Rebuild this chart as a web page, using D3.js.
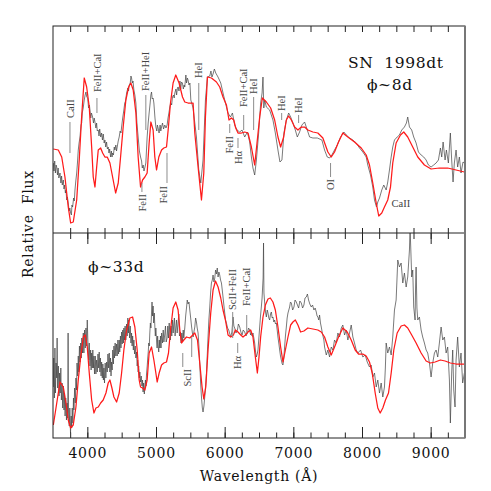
<!DOCTYPE html>
<html>
<head>
<meta charset="utf-8">
<script src="https://cdn.jsdelivr.net/npm/d3@7"></script>
<style>
    body { margin: 0; background: #fff; }
    svg text { font-family: "DejaVu Serif", serif; }
</style>
</head>
<body>
<div id="chart"></div>
<script>
// ticks along the wavelength axis
var majorTicks = [4000, 5000, 6000, 7000, 8000, 9000];
var minorTicks = [3750, 4000, 4250, 4500, 4750, 5000, 5250, 5500, 5750, 6000, 6250, 6500, 6750,
    7000, 7250, 7500, 7750, 8000, 8250, 8500, 8750, 9000, 9250];

// phase ~8d : observed spectrum [wavelength, relative flux]
var obs8 = [[3505,0.70],[3515,0.62],[3525,0.72],[3535,0.60],[3545,0.68],[3554,0.66],[3565,0.58],[3575,0.65],[3585,0.55],[3602,0.60],[3615,0.50],[3625,0.57],[3635,0.48],[3650,0.53],[3660,0.44],[3670,0.48],[3680,0.40],[3689,0.43],[3700,0.33],[3710,0.36],[3722,0.30],[3735,0.22],[3745,0.25],[3757,0.20],[3768,0.18],[3776,0.28],[3786,0.26],[3800,0.35],[3810,0.32],[3820,0.43],[3832,0.52],[3845,0.60],[3856,0.70],[3868,0.83],[3880,0.90],[3893,0.96],[3908,1.08],[3918,1.10],[3926,1.20],[3940,1.25],[3955,1.33],[3968,1.38],[3980,1.41],[3992,1.36],[4005,1.35],[4018,1.25],[4030,1.28],[4038,1.23],[4050,1.15],[4060,1.20],[4077,1.16],[4090,1.10],[4100,1.15],[4111,1.11],[4125,1.05],[4135,1.10],[4145,1.02],[4159,1.03],[4170,0.97],[4180,1.04],[4195,0.96],[4208,1.00],[4220,0.93],[4232,0.99],[4245,0.90],[4256,0.93],[4268,0.86],[4280,0.91],[4292,0.84],[4304,0.86],[4315,0.80],[4325,0.84],[4339,0.76],[4350,0.82],[4360,0.76],[4368,0.80],[4380,0.78],[4392,0.86],[4401,0.83],[4415,0.88],[4425,0.82],[4435,0.86],[4450,0.92],[4464,0.96],[4478,1.02],[4490,1.00],[4499,1.06],[4515,1.15],[4532,1.23],[4545,1.30],[4557,1.32],[4572,1.40],[4590,1.45],[4600,1.42],[4610,1.48],[4625,1.50],[4635,1.57],[4644,1.55],[4655,1.50],[4665,1.52],[4678,1.43],[4692,1.38],[4707,1.30],[4722,1.10],[4740,0.96],[4758,0.82],[4775,0.76],[4790,0.72],[4800,0.65],[4813,0.68],[4825,0.62],[4840,0.66],[4852,0.70],[4871,0.96],[4886,1.10],[4900,1.20],[4915,1.30],[4925,1.38],[4935,1.41],[4945,1.34],[4958,1.35],[4969,1.30],[4985,1.15],[4998,1.06],[5012,1.02],[5020,1.08],[5031,1.05],[5045,1.00],[5060,1.08],[5070,1.02],[5081,1.06],[5095,1.10],[5110,1.04],[5128,1.08],[5145,1.05],[5162,1.08],[5175,1.15],[5188,1.20],[5201,1.26],[5215,1.30],[5228,1.28],[5240,1.36],[5255,1.38],[5265,1.35],[5274,1.40],[5290,1.44],[5300,1.38],[5312,1.45],[5322,1.46],[5335,1.42],[5348,1.52],[5360,1.44],[5371,1.51],[5385,1.50],[5398,1.44],[5410,1.48],[5419,1.46],[5435,1.58],[5445,1.50],[5457,1.55],[5467,1.53],[5480,1.48],[5494,1.50],[5507,1.33],[5540,1.25],[5565,1.10],[5589,0.96],[5623,0.63],[5652,0.50],[5685,0.73],[5720,1.33],[5749,1.56],[5783,1.57],[5800,1.62],[5815,1.56],[5831,1.59],[5850,1.64],[5870,1.60],[5903,1.56],[5943,1.50],[5976,1.40],[6011,1.30],[6049,1.20],[6084,1.16],[6113,1.20],[6146,1.08],[6180,1.03],[6219,1.01],[6253,1.03],[6292,0.96],[6331,1.01],[6364,0.91],[6389,0.76],[6412,0.65],[6437,0.58],[6462,0.73],[6495,1.00],[6524,1.30],[6545,1.40],[6558,1.56],[6570,1.25],[6583,1.33],[6607,1.26],[6655,1.23],[6703,1.13],[6738,1.00],[6776,0.83],[6805,0.71],[6834,0.73],[6863,1.00],[6898,1.13],[6932,1.20],[6961,1.16],[6994,1.10],[7029,1.03],[7058,0.96],[7091,1.01],[7125,1.08],[7164,1.11],[7203,1.03],[7237,0.96],[7285,0.95],[7349,0.95],[7416,0.93],[7455,0.83],[7494,0.76],[7528,0.75],[7561,0.78],[7600,0.83],[7640,0.88],[7688,0.96],[7736,1.01],[7771,0.98],[7818,0.95],[7866,0.93],[7916,0.90],[7964,0.85],[8012,0.81],[8061,0.76],[8084,0.68],[8124,0.58],[8157,0.46],[8182,0.33],[8211,0.26],[8230,0.31],[8255,0.35],[8288,0.43],[8317,0.48],[8352,0.43],[8375,0.51],[8400,0.63],[8425,0.76],[8448,0.86],[8473,0.93],[8512,0.96],[8545,0.98],[8579,1.03],[8618,1.06],[8647,1.10],[8666,1.16],[8691,1.06],[8724,1.03],[8753,0.96],[8788,0.90],[8822,0.81],[8861,0.78],[8899,0.76],[8934,0.73],[8967,0.68],[9006,0.66],[9044,0.68],[9079,0.70],[9113,0.73],[9142,0.85],[9161,0.76],[9181,0.91],[9210,0.73],[9229,0.83],[9258,0.70],[9287,1.00],[9306,0.73],[9326,0.51],[9345,0.70],[9370,0.83],[9393,0.66],[9418,0.76],[9442,0.60],[9471,0.71],[9491,0.70]];

// phase ~8d : synthetic spectrum
var model8 = [[3505,0.84],[3577,0.83],[3627,0.76],[3674,0.56],[3722,0.26],[3757,0.10],[3795,0.11],[3845,0.33],[3882,0.73],[3917,1.16],[3955,1.55],[3990,1.46],[4028,1.26],[4063,0.86],[4086,0.56],[4111,0.46],[4136,0.66],[4159,0.83],[4194,0.85],[4223,0.80],[4256,0.76],[4290,0.76],[4329,0.70],[4368,0.56],[4412,0.40],[4450,0.50],[4484,0.76],[4522,1.06],[4561,1.33],[4601,1.46],[4634,1.50],[4668,1.43],[4707,1.20],[4740,0.76],[4775,0.46],[4804,0.53],[4838,0.56],[4871,0.60],[4900,0.90],[4925,1.11],[4958,1.03],[4983,0.76],[5008,0.63],[5041,0.76],[5081,0.83],[5114,0.85],[5153,0.86],[5177,1.03],[5211,1.30],[5249,1.50],[5288,1.58],[5336,1.50],[5386,1.36],[5419,1.31],[5467,1.30],[5540,1.30],[5565,1.00],[5613,0.66],[5662,0.33],[5696,0.60],[5720,1.16],[5749,1.56],[5808,1.55],[5880,1.51],[5928,1.46],[5976,1.36],[6026,1.28],[6063,1.13],[6098,1.15],[6132,1.13],[6161,1.05],[6194,1.00],[6244,1.00],[6292,1.01],[6340,1.00],[6389,0.86],[6437,0.68],[6471,0.90],[6510,1.16],[6549,1.35],[6607,1.31],[6670,1.25],[6728,1.13],[6776,0.96],[6815,0.86],[6859,0.96],[6898,1.13],[6932,1.17],[6971,1.13],[7019,1.06],[7067,1.03],[7116,1.06],[7164,1.06],[7212,1.03],[7285,1.01],[7357,1.00],[7430,0.95],[7503,0.81],[7552,0.76],[7600,0.81],[7658,0.91],[7721,1.00],[7794,0.96],[7891,0.91],[7989,0.85],[8061,0.78],[8109,0.68],[8157,0.50],[8207,0.30],[8244,0.17],[8288,0.20],[8327,0.26],[8375,0.33],[8415,0.46],[8448,0.70],[8497,0.90],[8560,0.98],[8608,1.01],[8666,0.96],[8739,0.86],[8812,0.76],[8909,0.68],[9006,0.64],[9127,0.65],[9248,0.65],[9370,0.63],[9491,0.61]];

// phase ~33d : observed spectrum
var obs33 = [[3505,0.51],[3512,0.80],[3520,0.40],[3528,0.90],[3536,0.45],[3545,0.75],[3554,0.60],[3560,1.00],[3568,0.50],[3578,0.72],[3588,0.42],[3596,0.65],[3605,0.45],[3614,0.70],[3622,0.38],[3632,0.55],[3641,0.30],[3650,0.52],[3660,0.28],[3668,0.45],[3676,0.22],[3686,0.40],[3696,0.18],[3705,0.35],[3714,0.20],[3720,1.05],[3726,0.25],[3737,0.12],[3745,0.30],[3755,0.05],[3765,0.22],[3772,0.10],[3780,0.30],[3790,0.15],[3798,0.40],[3805,0.28],[3815,0.50],[3825,0.35],[3834,0.60],[3842,0.48],[3850,0.75],[3860,0.62],[3868,0.82],[3876,0.66],[3885,0.92],[3893,0.76],[3903,0.95],[3912,0.80],[3920,1.00],[3930,0.85],[3941,1.05],[3950,0.85],[3960,1.08],[3970,0.90],[3980,1.10],[3990,0.92],[3999,1.18],[4010,0.92],[4020,0.78],[4028,0.95],[4038,0.72],[4048,0.88],[4055,0.68],[4063,0.85],[4072,0.70],[4080,0.88],[4088,0.70],[4096,0.82],[4105,0.64],[4115,0.82],[4125,0.64],[4135,0.78],[4145,0.66],[4155,0.84],[4165,0.70],[4173,0.86],[4182,0.66],[4190,0.80],[4200,0.62],[4208,0.76],[4218,0.60],[4226,0.74],[4234,0.58],[4242,0.70],[4250,0.55],[4260,0.75],[4270,0.60],[4281,0.76],[4290,0.66],[4300,0.84],[4310,0.70],[4319,0.85],[4328,0.66],[4338,0.80],[4345,0.62],[4353,0.76],[4362,0.68],[4370,0.88],[4380,0.74],[4387,0.92],[4396,0.80],[4405,0.95],[4415,0.82],[4426,0.94],[4435,0.82],[4445,0.98],[4455,0.84],[4464,0.98],[4472,0.86],[4482,1.02],[4490,0.90],[4499,1.06],[4508,0.94],[4516,1.08],[4525,0.95],[4532,1.10],[4542,0.98],[4550,1.12],[4560,0.98],[4572,1.14],[4580,1.02],[4590,1.20],[4598,1.05],[4605,1.18],[4615,1.00],[4625,1.12],[4635,0.95],[4644,1.05],[4652,0.92],[4660,1.02],[4670,0.88],[4678,0.98],[4688,0.84],[4698,0.92],[4707,0.80],[4716,0.86],[4726,0.72],[4733,0.78],[4740,0.66],[4748,0.72],[4757,0.60],[4765,0.66],[4775,0.56],[4785,0.62],[4795,0.52],[4804,0.58],[4812,0.46],[4820,0.55],[4830,0.44],[4838,0.52],[4846,0.58],[4854,0.52],[4862,0.64],[4872,0.72],[4880,0.80],[4886,0.85],[4895,0.95],[4902,0.92],[4910,1.05],[4918,1.15],[4926,1.10],[4935,1.25],[4942,1.36],[4950,1.22],[4958,1.32],[4966,1.15],[4975,1.25],[4983,1.12],[4990,1.02],[4998,1.10],[5008,0.98],[5016,0.90],[5024,1.02],[5031,0.92],[5040,0.86],[5048,0.98],[5056,0.90],[5065,1.02],[5073,0.90],[5082,1.05],[5095,0.95],[5105,1.08],[5115,0.96],[5128,1.04],[5138,1.12],[5148,0.96],[5162,1.00],[5172,1.12],[5182,1.00],[5192,1.15],[5201,1.05],[5210,0.98],[5220,1.12],[5230,1.02],[5240,1.18],[5250,1.05],[5259,1.14],[5268,1.20],[5278,1.02],[5288,1.10],[5298,1.18],[5308,1.05],[5322,1.16],[5332,1.24],[5342,1.02],[5357,1.06],[5366,0.95],[5376,1.05],[5386,0.96],[5396,1.08],[5405,1.00],[5419,1.10],[5432,1.22],[5444,1.30],[5455,1.38],[5467,1.34],[5480,1.36],[5492,1.28],[5505,1.20],[5517,1.12],[5528,1.06],[5540,1.01],[5552,1.06],[5565,1.11],[5577,1.20],[5589,1.16],[5600,1.10],[5613,1.05],[5625,0.92],[5637,0.75],[5650,0.55],[5662,0.41],[5675,0.30],[5685,0.26],[5698,0.32],[5710,0.41],[5722,0.52],[5735,0.65],[5746,0.82],[5758,1.01],[5770,1.18],[5783,1.31],[5795,1.45],[5807,1.55],[5820,1.58],[5831,1.63],[5844,1.56],[5856,1.60],[5868,1.68],[5880,1.64],[5892,1.70],[5904,1.61],[5916,1.66],[5928,1.63],[5940,1.58],[5953,1.55],[5965,1.48],[5976,1.41],[5990,1.32],[6001,1.25],[6013,1.18],[6026,1.15],[6042,1.10],[6059,1.08],[6075,1.04],[6088,1.01],[6105,1.06],[6122,1.21],[6134,1.12],[6146,1.10],[6165,1.05],[6186,1.08],[6200,1.14],[6219,1.11],[6236,1.06],[6253,1.03],[6270,1.08],[6292,1.06],[6310,1.02],[6331,1.05],[6348,1.10],[6364,1.08],[6378,1.03],[6389,1.06],[6400,1.02],[6412,1.05],[6425,1.00],[6437,0.95],[6450,0.86],[6462,0.81],[6474,0.84],[6485,0.88],[6498,1.00],[6510,1.11],[6522,1.22],[6534,1.31],[6545,1.40],[6553,1.51],[6560,1.60],[6566,1.95],[6572,1.45],[6583,1.35],[6595,1.26],[6607,1.21],[6620,1.28],[6631,1.25],[6643,1.20],[6655,1.18],[6668,1.24],[6680,1.26],[6692,1.20],[6703,1.21],[6716,1.16],[6728,1.18],[6740,1.14],[6752,1.15],[6765,1.08],[6776,1.01],[6790,0.94],[6801,0.88],[6813,0.82],[6825,0.78],[6838,0.74],[6849,0.73],[6861,0.80],[6873,0.91],[6885,1.02],[6898,1.11],[6910,1.20],[6922,1.25],[6934,1.28],[6946,1.31],[6958,1.36],[6971,1.35],[6990,1.28],[7009,1.31],[7025,1.38],[7043,1.36],[7060,1.33],[7077,1.30],[7095,1.37],[7116,1.35],[7135,1.30],[7154,1.33],[7170,1.40],[7189,1.41],[7205,1.44],[7222,1.38],[7240,1.34],[7261,1.31],[7280,1.33],[7300,1.28],[7318,1.30],[7334,1.26],[7346,1.22],[7358,1.21],[7370,1.18],[7382,1.23],[7395,1.15],[7407,1.11],[7425,1.04],[7445,0.98],[7455,0.91],[7480,0.83],[7503,0.88],[7528,0.81],[7552,0.91],[7576,0.88],[7600,0.98],[7625,0.95],[7649,1.05],[7673,1.01],[7698,1.10],[7721,1.13],[7746,1.03],[7770,1.08],[7794,0.98],[7818,1.05],[7843,1.13],[7867,1.01],[7891,0.95],[7916,0.88],[7940,0.85],[7979,0.88],[8012,0.81],[8047,0.83],[8076,0.76],[8109,0.71],[8134,0.73],[8157,0.61],[8182,0.65],[8207,0.51],[8230,0.58],[8255,0.45],[8279,0.55],[8303,0.41],[8327,0.51],[8340,0.70],[8352,0.95],[8375,0.85],[8400,0.91],[8425,0.83],[8448,1.01],[8473,1.28],[8497,1.38],[8521,1.78],[8545,1.71],[8570,1.75],[8594,1.55],[8618,1.65],[8643,1.51],[8666,1.61],[8691,1.88],[8700,2.10],[8710,1.90],[8724,1.61],[8739,1.68],[8753,1.31],[8773,1.18],[8780,1.50],[8788,1.71],[8800,1.30],[8812,1.18],[8836,1.21],[8861,1.08],[8884,1.01],[8909,0.95],[8934,0.88],[8957,0.85],[8982,0.75],[9006,0.61],[9030,0.75],[9055,0.85],[9079,0.88],[9103,0.81],[9127,0.95],[9152,1.11],[9176,0.98],[9200,1.01],[9225,0.85],[9248,0.91],[9273,0.58],[9287,0.15],[9306,0.65],[9321,0.88],[9336,0.48],[9355,0.31],[9370,0.78],[9393,1.01],[9418,0.71],[9442,0.85],[9466,0.55],[9491,0.65]];

// phase ~33d : synthetic spectrum
var model33 = [[3505,0.13],[3602,0.56],[3650,0.51],[3689,0.35],[3722,0.18],[3757,0.10],[3795,0.13],[3834,0.31],[3868,0.58],[3903,0.81],[3941,1.01],[3970,1.03],[3999,0.91],[4028,0.65],[4063,0.38],[4096,0.25],[4125,0.30],[4159,0.31],[4194,0.35],[4231,0.38],[4271,0.45],[4304,0.55],[4329,0.58],[4358,0.50],[4387,0.41],[4426,0.36],[4464,0.45],[4499,0.65],[4532,0.88],[4572,1.08],[4620,1.20],[4659,1.21],[4692,1.11],[4726,0.88],[4755,0.58],[4775,0.51],[4804,0.50],[4838,0.48],[4871,0.58],[4900,0.85],[4935,0.91],[4969,0.78],[4998,0.65],[5017,0.56],[5046,0.65],[5081,0.73],[5114,0.75],[5153,0.76],[5182,0.85],[5211,1.08],[5249,1.30],[5288,1.36],[5322,1.28],[5347,1.08],[5371,0.95],[5405,0.98],[5444,1.01],[5492,1.00],[5565,1.05],[5604,0.98],[5637,0.75],[5671,0.51],[5696,0.39],[5725,0.51],[5758,0.88],[5797,1.25],[5831,1.48],[5866,1.57],[5904,1.51],[5943,1.40],[5976,1.28],[6011,1.18],[6049,1.03],[6088,1.01],[6127,1.03],[6156,1.08],[6194,1.06],[6234,1.03],[6267,1.01],[6302,1.03],[6340,1.06],[6379,1.08],[6412,1.01],[6447,0.81],[6476,0.65],[6500,0.81],[6524,1.01],[6558,1.21],[6593,1.33],[6631,1.39],[6665,1.40],[6703,1.36],[6738,1.28],[6776,1.11],[6815,0.91],[6849,0.76],[6884,0.88],[6922,1.01],[6961,1.13],[6994,1.16],[7029,1.18],[7067,1.13],[7106,1.06],[7154,1.07],[7212,1.10],[7285,1.09],[7357,1.08],[7407,1.06],[7455,1.01],[7503,0.91],[7552,0.83],[7600,0.91],[7658,1.01],[7721,1.10],[7785,1.06],[7843,0.98],[7901,0.88],[7949,0.84],[8012,0.84],[8061,0.82],[8109,0.76],[8149,0.65],[8192,0.45],[8230,0.30],[8265,0.25],[8303,0.30],[8342,0.38],[8386,0.45],[8425,0.65],[8463,0.88],[8512,1.05],[8570,1.12],[8618,1.13],[8666,1.10],[8724,1.03],[8788,0.95],[8861,0.85],[8934,0.77],[8996,0.75],[9065,0.76],[9142,0.78],[9210,0.77],[9287,0.75],[9370,0.74],[9491,0.74]];

// line identifications: marker lines [panel, wavelength, flux from, flux to]
var idLines = [
    [0, 3747, 0.80, 1.11], [0, 4140, 1.20, 1.35], [0, 4852, 1.03, 1.38], [0, 5623, 1.03, 1.50],
    [0, 6277, 1.03, 1.18], [0, 6422, 1.03, 1.36], [0, 6830, 1.13, 1.20], [0, 7077, 1.10, 1.18],
    [0, 7542, 0.56, 0.70], [0, 4795, 0.41, 0.50], [0, 5160, 0.50, 0.80], [0, 6074, 1.00, 1.09],
    [0, 6194, 0.85, 0.95],
    [1, 6117, 1.00, 1.26], [1, 6321, 1.05, 1.23], [1, 6190, 0.85, 0.95],
    [1, 5390, 0.71, 0.85], [1, 5520, 0.81, 1.01]
];
// line identifications: texts [panel, text, wavelength, flux, direction]
var idTexts = [
    [0, "CaII", 3747, 1.15, "up"], [0, "FeII+CaI", 4140, 1.41, "up"], [0, "FeII+HeI", 4852, 1.42, "up"],
    [0, "HeI", 5623, 1.55, "up"], [0, "FeII+CaI", 6277, 1.26, "up"], [0, "HeI", 6422, 1.39, "up"],
    [0, "HeI", 6830, 1.22, "up"], [0, "HeI", 7077, 1.20, "up"], [0, "OI", 7542, 0.54, "down"],
    [0, "FeII", 4795, 0.39, "down"], [0, "FeII", 5115, 0.47, "down"], [0, "FeII", 6074, 0.97, "down"],
    [0, "Hα", 6194, 0.82, "down"], [0, "CaII", 8430, 0.26, "flat"],
    [1, "ScII+FeII", 6117, 1.28, "up"], [1, "FeII+CaI", 6321, 1.32, "up"],
    [1, "Hα", 6190, 0.82, "down"], [1, "ScII", 5463, 0.69, "down"]
];
var panelNotes = [["SN  1998dt", 0, 7795, 1.65], ["ϕ~8d", 0, 8072, 1.43], ["ϕ~33d", 1, 4010, 1.66]];

var spectra = (function () {
    var width = 491, height = 491;
    var left = 53, right = 465, top = 26, mid = 233, bottom = 438;

    var svg = d3.select("#chart").append("svg")
        .attr("width", width)
        .attr("height", height);

    var x = d3.scaleLinear().domain([3500, 9500]).range([left, right]);
    var yScales = [
        d3.scaleLinear().domain([0, 2.07]).range([mid, top]),
        d3.scaleLinear().domain([0, 2.05]).range([bottom, mid])
    ];
    var panels = [[top, mid], [mid, bottom]];

    panels.forEach(function (p, i) {
        svg.append("clipPath").attr("id", "clip" + i)
            .append("rect")
            .attr("x", left).attr("y", p[0])
            .attr("width", right - left).attr("height", p[1] - p[0]);
    });

    function drawSpectrum(data, panel, color, w) {
        var y = yScales[panel];
        svg.append("path")
            .datum(data)
            .attr("clip-path", "url(#clip" + panel + ")")
            .attr("fill", "none")
            .attr("stroke", color)
            .attr("stroke-width", w)
            .attr("stroke-linejoin", "round")
            .attr("d", d3.line()
                .x(function (d) { return x(d[0]); })
                .y(function (d) { return y(d[1]); }));
    }

    drawSpectrum(obs8, 0, "#404040", 0.7);
    drawSpectrum(model8, 0, "#ff1a1a", 1.25);
    drawSpectrum(obs33, 1, "#404040", 0.7);
    drawSpectrum(model33, 1, "#ff1a1a", 1.25);

    // identification markers
    svg.append("g").selectAll("line")
        .data(idLines)
        .enter().append("line")
        .attr("x1", function (d) { return x(d[1]); })
        .attr("x2", function (d) { return x(d[1]); })
        .attr("y1", function (d) { return yScales[d[0]](d[2]); })
        .attr("y2", function (d) { return yScales[d[0]](d[3]); })
        .attr("stroke", "#8c8c8c")
        .attr("stroke-width", 1);

    svg.append("g").selectAll("text")
        .data(idTexts)
        .enter().append("text")
        .style("font-family", "'Liberation Serif', serif")
        .attr("font-size", 10.5)
        .attr("fill", "#444")
        .attr("text-anchor", function (d) { return d[4] === "down" ? "end" : "start"; })
        .attr("transform", function (d) {
            var px = x(d[2]), py = yScales[d[0]](d[3]);
            if (d[4] === "flat") return "translate(" + px + "," + py + ")";
            return "translate(" + (px + 3.6) + "," + py + ") rotate(-90)";
        })
        .text(function (d) { return d[1]; });

    // axes: ticks pointing into each panel
    function axis(gen, pos, values, size, labels) {
        var g = svg.append("g")
            .attr("transform", "translate(0," + pos + ")")
            .call(gen(x).tickValues(values).tickSize(size).tickPadding(10)
                .tickFormat(labels ? d3.format("d") : ""));
        g.select(".domain").remove();
        g.selectAll("line").attr("stroke", "#222");
        g.selectAll("text")
            .attr("font-size", 14)
            .attr("letter-spacing", 0.8)
            .attr("fill", "#111");
    }
    axis(d3.axisTop, top, minorTicks, -6, false);
    axis(d3.axisBottom, mid, minorTicks, -5, false);
    axis(d3.axisTop, mid, minorTicks, -6, false);
    axis(d3.axisTop, mid, majorTicks, -11, false);
    axis(d3.axisBottom, bottom, minorTicks, -5.5, false);
    axis(d3.axisBottom, bottom, majorTicks, -11, true);

    // frame
    svg.append("rect")
        .attr("x", left).attr("y", top)
        .attr("width", right - left).attr("height", bottom - top)
        .attr("fill", "none")
        .attr("stroke", "#222")
        .attr("stroke-width", 1);
    svg.append("line")
        .attr("x1", left).attr("x2", right)
        .attr("y1", mid).attr("y2", mid)
        .attr("stroke", "#222");
    svg.append("line")
        .attr("x1", right).attr("x2", right)
        .attr("y1", top).attr("y2", bottom)
        .attr("stroke", "#777")
        .attr("stroke-width", 2);

    svg.selectAll(".note")
        .data(panelNotes)
        .enter().append("text")
        .attr("class", "note")
        .attr("x", function (d) { return x(d[2]); })
        .attr("y", function (d) { return yScales[d[1]](d[3]); })
        .attr("font-size", 15.5)
        .attr("letter-spacing", 0.6)
        .attr("fill", "#111")
        .style("white-space", "pre")
        .text(function (d) { return d[0]; });

    svg.append("text")
        .attr("x", (left + right) / 2)
        .attr("y", 481)
        .attr("text-anchor", "middle")
        .attr("font-size", 14)
        .attr("letter-spacing", 0.7)
        .attr("fill", "#111")
        .text("Wavelength (Å)");

    svg.append("text")
        .attr("transform", "translate(33,224) rotate(-90)")
        .attr("text-anchor", "middle")
        .attr("font-size", 14)
        .attr("letter-spacing", 0.7)
        .attr("fill", "#111")
        .style("white-space", "pre")
        .text("Relative  Flux");

    return svg;
})();
</script>
</body>
</html>
